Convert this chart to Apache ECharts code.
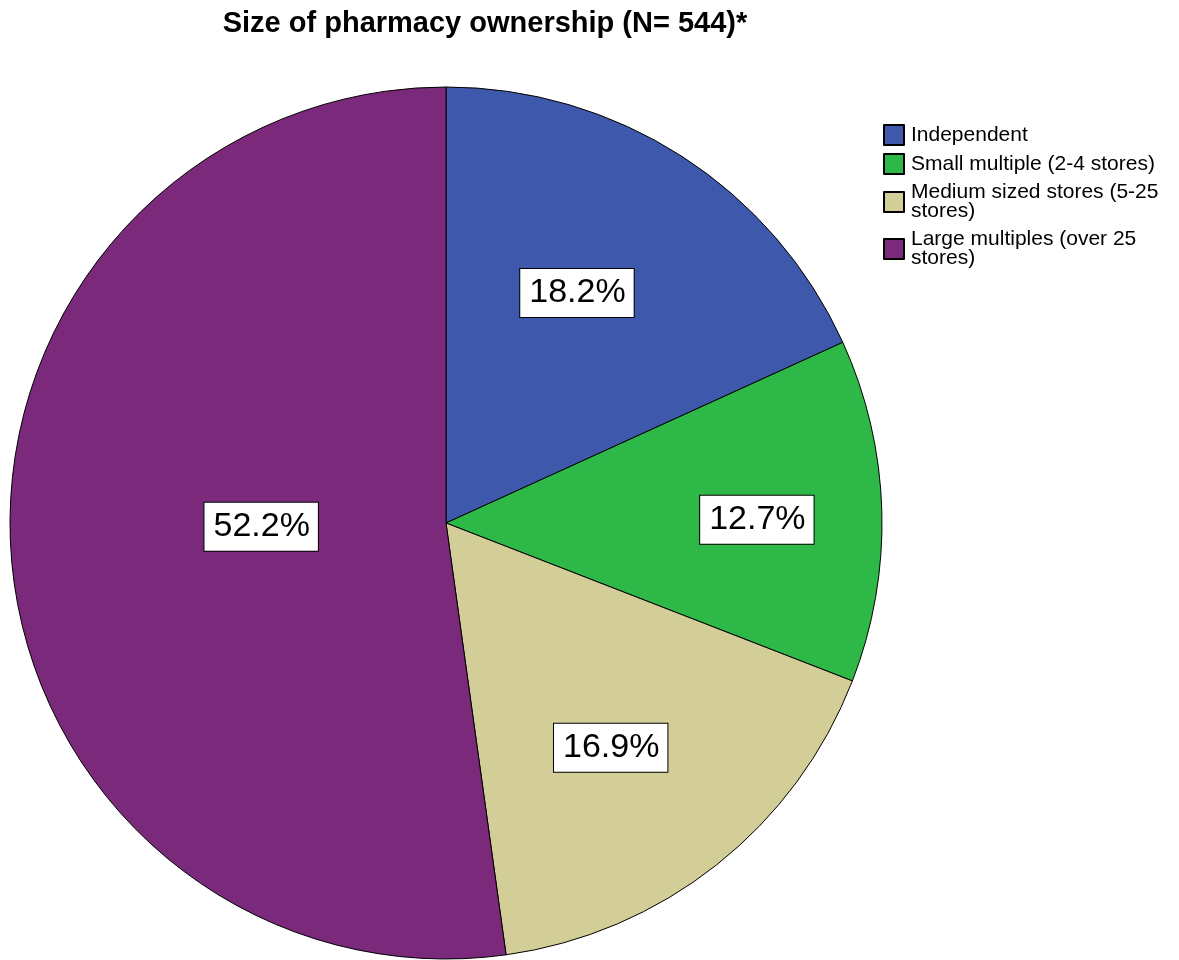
<!DOCTYPE html>
<html>
<head>
<meta charset="utf-8">
<title>Size of pharmacy ownership</title>
<script src="https://cdn.jsdelivr.net/npm/echarts@6/dist/echarts.min.js"></script>
<style>
  html, body { margin: 0; padding: 0; background: #fff; }
  #chart { width: 1179px; height: 960px; }
</style>
</head>
<body>
<div id="chart"></div>
<script>
// Ownership categories and their share of the 544 pharmacies (%)
const categories = [
  'Independent',
  'Small multiple (2-4 stores)',
  'Medium sized stores (5-25 stores)',
  'Large multiples (over 25 stores)'
];
const shares = [18.2, 12.7, 16.9, 52.2];
const legendLabels = [
  'Independent',
  'Small multiple (2-4 stores)',
  'Medium sized stores (5-25\nstores)',
  'Large multiples (over 25\nstores)'
];
const colors = ['#3e58ac', '#2eb848', '#d3ce97', '#7a297b'];

// Pie geometry (pixels); each label sits at a fraction of the radius,
// nudged a few degrees off its slice's middle angle
const CX = 446, CY = 523, R = 436;
const labelRadius = [0.607, 0.713, 0.639, 0.424];
const labelAngleShift = [-3.1, 1.0, 2.1, 2.8];

const total = shares.reduce((a, b) => a + b, 0);
function midAngle(i) {
  let before = 0;
  for (let k = 0; k < i; k++) before += shares[k];
  return (before + shares[i] / 2) / total * Math.PI * 2;
}

const FONT = '"Liberation Sans", Arial, Helvetica, sans-serif';
const chart = echarts.init(document.getElementById('chart'), null, { renderer: 'canvas' });

chart.setOption({
  animation: false,
  backgroundColor: '#ffffff',
  title: {
    text: 'Size of pharmacy ownership (N= 544)*',
    left: 485,
    top: 9,
    padding: 0,
    textAlign: 'center',
    textStyle: { fontFamily: FONT, fontSize: 29, fontWeight: 'bold', color: '#000' }
  },
  legend: {
    orient: 'vertical',
    left: 883,
    top: 124,
    padding: 0,
    itemWidth: 20,
    itemHeight: 20,
    itemGap: 7,
    icon: 'rect',
    selectedMode: false,
    data: categories,
    formatter: name => legendLabels[categories.indexOf(name)],
    textStyle: { fontFamily: FONT, fontSize: 21, lineHeight: 19, color: '#000', padding: [0, 0, 0, 2] }
  },
  series: [{
    type: 'pie',
    center: [CX, CY],
    radius: [0, R],
    startAngle: 90,
    clockwise: true,
    avoidLabelOverlap: false,
    silent: true,
    emphasis: { disabled: true },
    itemStyle: { borderColor: '#000', borderWidth: 1 },
    label: {
      show: true,
      position: 'inside',
      formatter: p => p.value.toFixed(1) + '%',
      fontFamily: FONT,
      fontSize: 34,
      lineHeight: 34,
      color: '#000',
      backgroundColor: '#fff',
      borderColor: '#000',
      borderWidth: 1,
      padding: [7, 8, 7, 9]
    },
    labelLine: { show: false },
    labelLayout: params => {
      const i = params.dataIndex;
      const a = midAngle(i) + labelAngleShift[i] * Math.PI / 180;
      const d = labelRadius[i] * R;
      return { x: CX + d * Math.sin(a), y: CY - d * Math.cos(a) };
    },
    data: categories.map((name, i) => ({
      name: name,
      value: shares[i],
      itemStyle: { color: colors[i] }
    }))
  }]
});
</script>
</body>
</html>
